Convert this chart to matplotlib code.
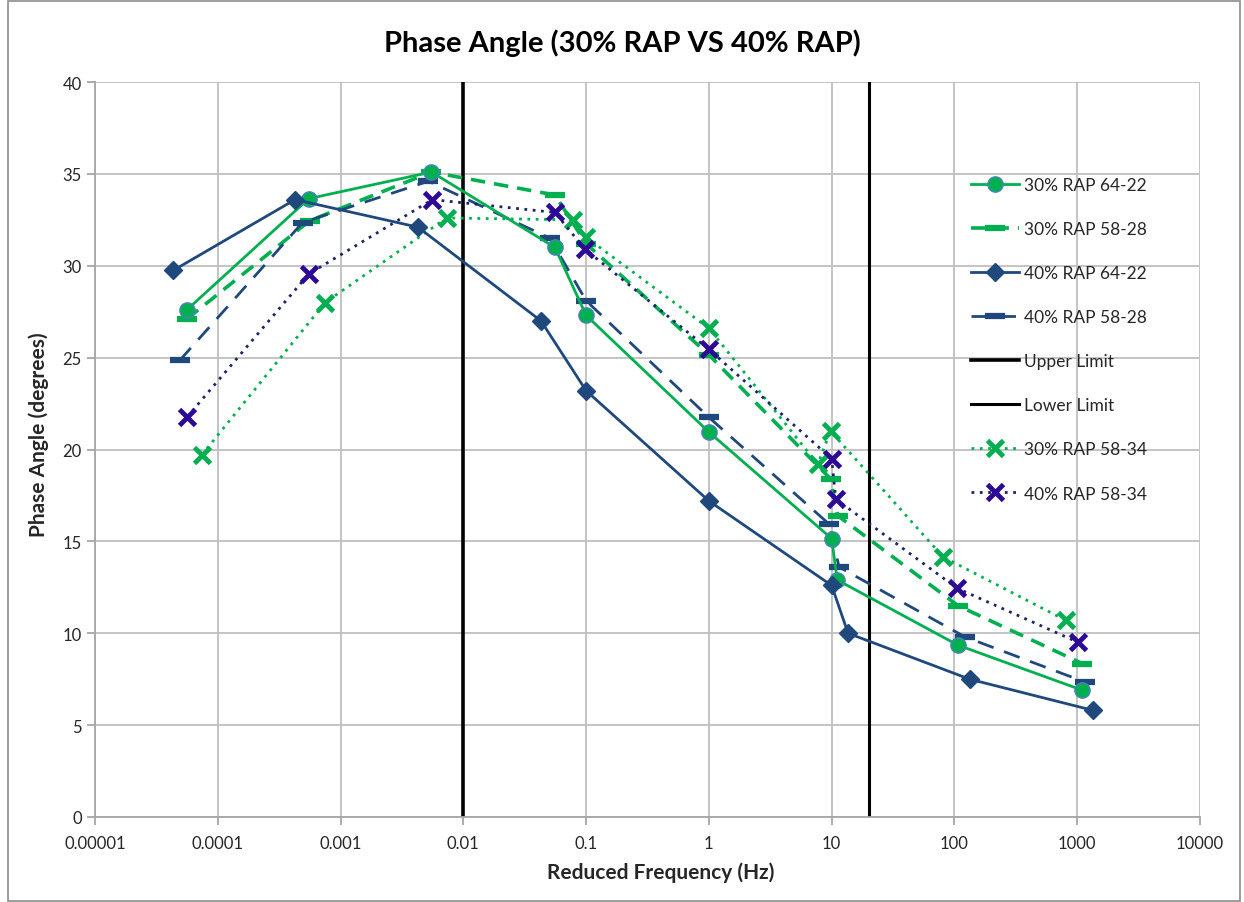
import matplotlib
matplotlib.use("Agg")
import matplotlib.pyplot as plt
from matplotlib.patches import Rectangle
from matplotlib.ticker import FixedLocator, FixedFormatter

plt.rcParams['font.family'] = ['Lato', 'DejaVu Sans']

# 30% RAP 64-22
f_30_6422 = [5.6e-5, 5.5e-4, 5.5e-3, 0.0557, 0.1, 1.0, 10.0, 11.1, 107, 1100]
pa_30_6422 = [27.6, 33.65, 35.1, 31.0, 27.3, 20.95, 15.15, 12.9, 9.35, 6.9]

# 30% RAP 58-28
f_30_5828 = [5.6e-5, 5.6e-4, 5.5e-3, 0.0557, 0.1, 1.0, 9.8, 11.2, 107, 1100]
pa_30_5828 = [27.1, 32.45, 35.1, 33.85, 31.2, 25.15, 18.4, 16.4, 11.5, 8.35]

# 40% RAP 64-22
f_40_6422 = [4.35e-5, 4.26e-4, 4.27e-3, 0.0429, 0.1, 1.0, 10.0, 13.6, 133, 1350]
pa_40_6422 = [29.75, 33.6, 32.1, 27.0, 23.2, 17.2, 12.6, 10.0, 7.5, 5.8]

# 40% RAP 58-28
f_40_5828 = [4.9e-5, 4.9e-4, 5.2e-3, 0.0507, 0.1, 1.0, 9.5, 11.5, 122, 1150]
pa_40_5828 = [24.85, 32.35, 34.6, 31.5, 28.1, 21.75, 15.95, 13.6, 9.8, 7.35]

# 30% RAP 58-34
f_30_5834 = [7.4e-5, 7.5e-4, 7.3e-3, 0.0785, 0.1, 1.0, 7.7, 9.8, 81, 807]
pa_30_5834 = [19.7, 28.0, 32.6, 32.5, 31.55, 26.6, 19.2, 21.0, 14.15, 10.7]

# 40% RAP 58-34
f_40_5834 = [5.6e-5, 5.5e-4, 5.6e-3, 0.0557, 0.098, 1.0, 10.0, 10.8, 105, 1020]
pa_40_5834 = [21.75, 29.55, 33.6, 32.9, 30.9, 25.45, 19.5, 17.3, 12.45, 9.5]

upper_limit = 0.01
lower_limit = 20

x_ticks = [1e-5, 1e-4, 1e-3, 1e-2, 1e-1, 1, 10, 100, 1000, 10000]
x_labels = ["0.00001", "0.0001", "0.001", "0.01", "0.1", "1", "10", "100", "1000", "10000"]
y_ticks = [0, 5, 10, 15, 20, 25, 30, 35, 40]

GREEN = "#00B050"
NAVY = "#1F497D"
INDIGO = "#2C0A96"
DOTNAVY = "#1B2466"

fig = plt.figure(figsize=(12.44, 9.03), dpi=100)
ax = fig.add_axes([95/1244, 1-818/903, (1200-95)/1244, (818-83)/903])

ax.plot(f_30_6422, pa_30_6422, color=GREEN, lw=2.0, marker="o", ms=11,
        mfc=GREEN, mec="#4F81BD", mew=1.0, label="30% RAP 64-22", zorder=4)
ax.plot(f_30_5828, pa_30_5828, color=GREEN, lw=2.6, ls=(0, (4, 2.5)), marker="_",
        ms=14, mew=4.5, label="30% RAP 58-28", zorder=3)
ax.plot(f_40_6422, pa_40_6422, color=NAVY, lw=2.0, marker="D", ms=9,
        label="40% RAP 64-22", zorder=4)
ax.plot(f_40_5828, pa_40_5828, color=NAVY, lw=2.0, ls=(0, (6, 4)), marker="_",
        ms=14, mew=4.5, label="40% RAP 58-28", zorder=3)
ax.axvline(upper_limit, color="black", lw=2.6, label="Upper Limit", zorder=2)
ax.axvline(lower_limit, color="black", lw=2.2, label="Lower Limit", zorder=2)
ax.plot(f_30_5834, pa_30_5834, color=GREEN, lw=2.0, ls=(0, (1, 2)), marker="x",
        ms=12, mew=3.5, label="30% RAP 58-34", zorder=3)
ax.plot(f_40_5834, pa_40_5834, color=DOTNAVY, lw=2.0, ls=(0, (1, 2)), marker="x",
        ms=12, mew=3.5, mec=INDIGO, label="40% RAP 58-34", zorder=3)

ax.set_xscale("log")
ax.set_xlim(1e-5, 1e4)
ax.set_ylim(0, 40)
ax.xaxis.set_major_locator(FixedLocator(x_ticks))
ax.xaxis.set_major_formatter(FixedFormatter(x_labels))
ax.xaxis.set_minor_locator(FixedLocator([]))
ax.set_yticks(y_ticks)
ax.grid(True, color="#BFBFBF", lw=1.3)
ax.set_axisbelow(True)
for side in ["top", "right"]:
    ax.spines[side].set_visible(False)
for side in ["left", "bottom"]:
    ax.spines[side].set_color("#A6A6A6")
    ax.spines[side].set_linewidth(1.3)
ax.tick_params(axis="both", colors="#A6A6A6", labelcolor="#262626",
               labelsize=12, length=6, width=1.3)
ax.tick_params(axis="x", pad=7)

ax.set_xlabel("Reduced Frequency (Hz)", fontsize=15, fontweight="bold",
              color="#262626")
ax.set_ylabel("Phase Angle (degrees)", fontsize=15, fontweight="bold",
              color="#262626")
ax.xaxis.set_label_coords(0.512, -0.06)
ax.yaxis.set_label_coords(-0.042, 0.521)
fig.text(0.5, 1-43/903, "Phase Angle (30% RAP VS 40% RAP)", ha="center", va="center",
         fontsize=21, fontweight="bold", color="black")

ax.legend(loc="upper left", bbox_to_anchor=(955/1244, 1-162/903),
          bbox_transform=fig.transFigure, frameon=False, fontsize=12.5,
          labelspacing=1.62, handlelength=2.8, handletextpad=0.3,
          labelcolor="#262626")

fig.patches.append(Rectangle((8/1244, 1/903), 1232/1244, 900/903,
                             transform=fig.transFigure, fill=False,
                             edgecolor="#8C8C8C", lw=1.2))

fig.savefig("out.png", dpi=100)
